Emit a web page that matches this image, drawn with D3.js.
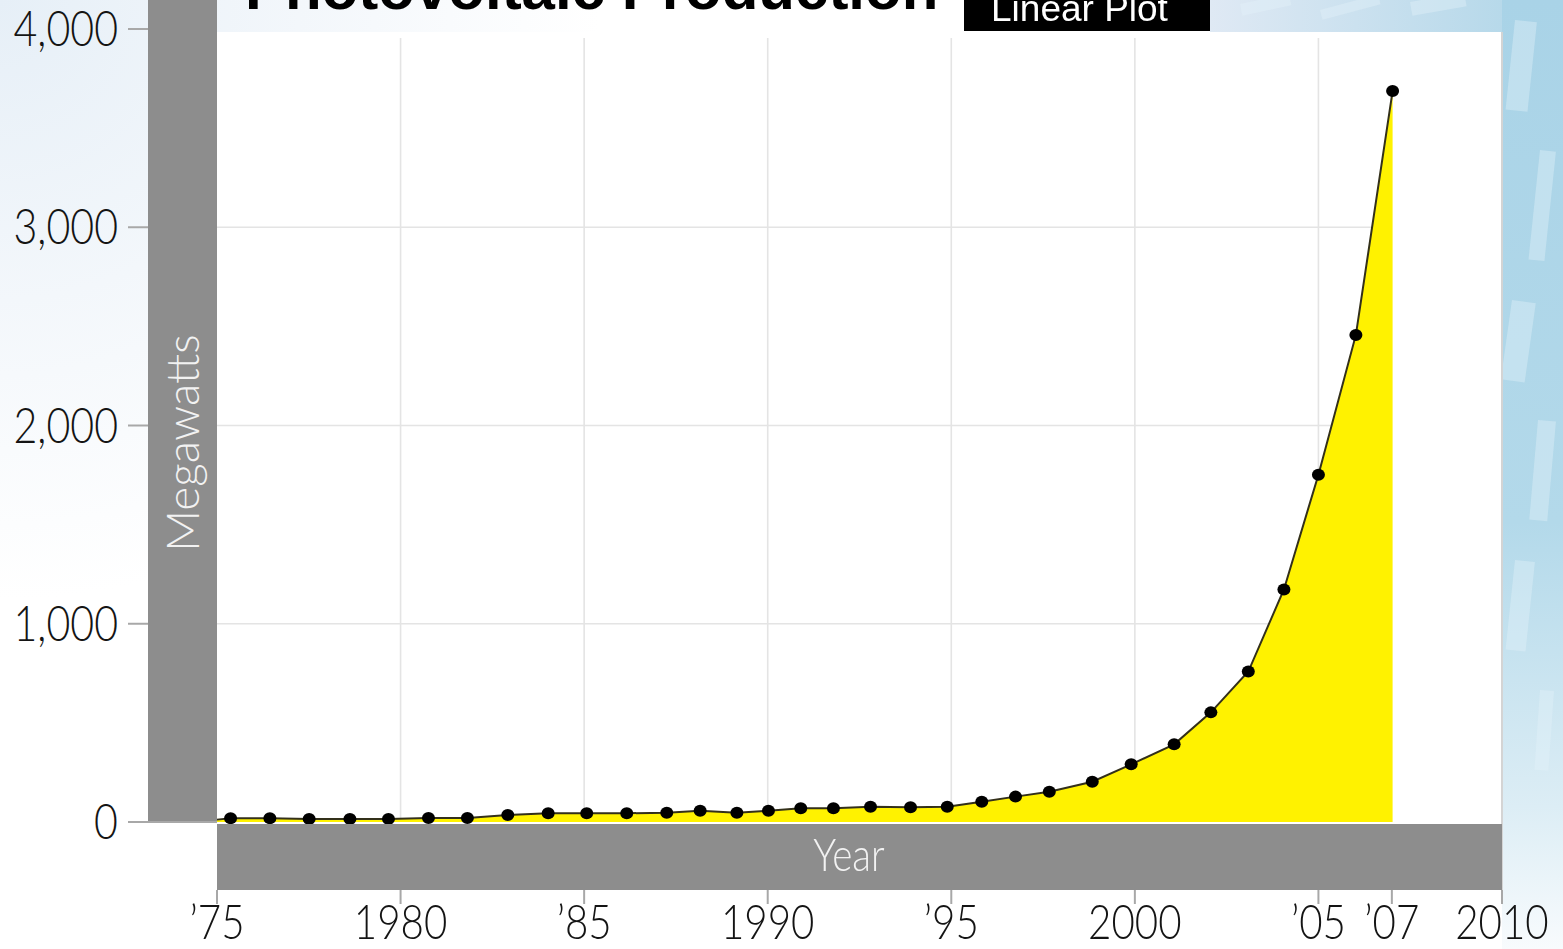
<!DOCTYPE html>
<html><head><meta charset="utf-8">
<script src="https://cdn.jsdelivr.net/npm/d3@7"></script>
<style>body{margin:0;overflow:hidden;background:#fff}</style>
</head><body><svg id="c" width="1563" height="949"></svg>
<script>
// ---- data ----
const title = "Photovoltaic Production";
const subtitle = "Linear Plot";
const yLabel = "Megawatts";
const xLabel = "Year";
const yTicks = [0, 1000, 2000, 3000, 4000];
const yGrid = [1000, 2000, 3000];
const xTicks = [1975, 1980, 1985, 1990, 1995, 2000, 2005, 2007, 2010];
const xTickLabels = ["’75", "1980", "’85", "1990", "’95", "2000", "’05", "’07", "2010"];
const xGrid = [1980, 1985, 1990, 1995, 2000, 2005];
// marker positions (year position, megawatts)
const dotYears = [1975.37, 1976.44, 1977.51, 1978.62, 1979.67, 1980.76, 1981.82, 1982.92,
  1984.02, 1985.07, 1986.16, 1987.25, 1988.16, 1989.16, 1990.02, 1990.90, 1991.79,
  1992.80, 1993.89, 1994.89, 1995.83, 1996.75, 1997.67, 1998.84, 1999.90,
  2001.07, 2002.07, 2003.09, 2004.06, 2005.00, 2006.02, 2007.02];
const dotValues = [19, 19, 15, 15, 15, 20, 20, 35,
  44, 44, 44, 47, 57, 47, 57, 69, 69,
  77, 74, 77, 102, 128, 153, 203, 291,
  392, 553, 759, 1173, 1752, 2457, 3687];
const lineStartYear = 1975, lineStartValue = 12;

// ---- layout ----
const W = 1563, H = 949;
const pLeft = 217, pRight = 1502, pTop = 29, zeroY = 822;
const svg = d3.select("#c");
const x = d3.scaleLinear().domain([1975, 2010]).range([pLeft, pRight]);
const y = d3.scaleLinear().domain([0, 4000]).range([zeroY, pTop]);
const FONT = "Lato, 'Open Sans', 'Liberation Sans', sans-serif";
const SQ = 0.84;

const defs = svg.append("defs");
// left pale-blue wash
const lg = defs.append("radialGradient").attr("id", "lw").attr("cx", 0).attr("cy", 0).attr("r", 1);
[[0, "#e6eff7"], [0.5, "#f3f7fb"], [1, "#ffffff"]].forEach(([o, c]) => lg.append("stop").attr("offset", o).attr("stop-color", c));
svg.append("rect").attr("width", W).attr("height", H).attr("fill", "#ffffff");
svg.append("rect").attr("width", 600).attr("height", 600).attr("fill", "url(#lw)");
// right blue wash (fades toward the bottom)
const rg = defs.append("linearGradient").attr("id", "rw").attr("x1", 0).attr("x2", 0).attr("y1", 0).attr("y2", 1);
[[0, "#a9d3e7"], [0.55, "#b3d9ea"], [0.85, "#dcedf5"], [1, "#f8fbfd"]].forEach(([o, c]) => rg.append("stop").attr("offset", o).attr("stop-color", c));
svg.append("rect").attr("x", pRight).attr("y", 0).attr("width", W - pRight).attr("height", H).attr("fill", "url(#rw)");
const tg = defs.append("linearGradient").attr("id", "tw").attr("x1", 0).attr("x2", 1).attr("y1", 0).attr("y2", 0);
[[0, "#dfe9f4"], [1, "#b7d9ea"]].forEach(([o, c]) => tg.append("stop").attr("offset", o).attr("stop-color", c));
svg.append("rect").attr("x", 1210).attr("y", 0).attr("width", pRight - 1210).attr("height", 32).attr("fill", "url(#tw)");

// decorative pattern (faint, blocky shapes)
const deco = svg.append("g").attr("fill", "#e4f2f9").attr("opacity", 0.4);
[[1515, 20, 22, 90, 6], [1540, 150, 16, 110, 6], [1512, 300, 24, 80, 8],
 [1538, 420, 18, 100, 5], [1515, 560, 20, 90, 6], [1540, 690, 14, 80, 4],
 [1240, 4, 50, 12, -12], [1320, 10, 60, 10, -15], [1410, 2, 55, 14, -10]]
  .forEach(([a, b, w, h, r]) => deco.append("rect").attr("x", a).attr("y", b).attr("width", w).attr("height", h)
    .attr("transform", `rotate(${r},${a},${b})`));

// white panel
svg.append("rect").attr("x", pLeft).attr("y", 32).attr("width", pRight - pLeft).attr("height", zeroY - 32).attr("fill", "#ffffff");
svg.append("line").attr("x1", pRight).attr("x2", pRight).attr("y1", 32).attr("y2", 890).attr("stroke", "#d4d4d4").attr("stroke-width", 2);

// grid
svg.append("g").selectAll("line").data(xGrid).join("line")
  .attr("x1", d => x(d)).attr("x2", d => x(d)).attr("y1", 38).attr("y2", zeroY)
  .attr("stroke", "#e4e4e4").attr("stroke-width", 1.6);
svg.append("g").selectAll("line").data(yGrid).join("line")
  .attr("x1", pLeft).attr("x2", 1383).attr("y1", d => y(d)).attr("y2", d => y(d))
  .attr("stroke", "#e4e4e4").attr("stroke-width", 1.6);

// area + line
const pts = [{yr: lineStartYear, v: lineStartValue}].concat(dotYears.map((d, i) => ({yr: d, v: dotValues[i]})));
svg.append("path").datum(pts)
  .attr("d", d3.area().x(d => x(d.yr)).y0(zeroY).y1(d => y(d.v)))
  .attr("fill", "#fff200");
svg.append("path").datum(pts)
  .attr("d", d3.line().x(d => x(d.yr)).y(d => y(d.v)))
  .attr("fill", "none").attr("stroke", "#33301a").attr("stroke-width", 2);
svg.append("g").selectAll("ellipse").data(pts.slice(1)).join("ellipse")
  .attr("cx", d => x(d.yr)).attr("cy", d => y(d.v)).attr("rx", 6.5).attr("ry", 6).attr("fill", "#000");

// gray bars
svg.append("rect").attr("x", 148).attr("y", 0).attr("width", pLeft - 148).attr("height", zeroY).attr("fill", "#8d8d8d");
svg.append("rect").attr("x", pLeft).attr("y", zeroY + 2).attr("width", pRight - pLeft).attr("height", 890 - zeroY - 2).attr("fill", "#8d8d8d");

// y ticks and labels
svg.append("g").selectAll("line").data(yTicks).join("line")
  .attr("x1", 128).attr("x2", d => d === 0 ? pLeft : 148).attr("y1", d => y(d)).attr("y2", d => y(d))
  .attr("stroke", "#a8a8a8").attr("stroke-width", 2);
svg.append("g").selectAll("text").data(yTicks).join("text")
  .attr("transform", d => `translate(118,${y(d) + 17}) scale(${SQ},1)`)
  .attr("text-anchor", "end").attr("font-family", FONT).attr("font-weight", 300)
  .attr("font-size", 49).attr("fill", "#141414").text(d => d3.format(",")(d));

// x ticks and labels
svg.append("g").selectAll("line").data(xTicks).join("line")
  .attr("x1", d => x(d)).attr("x2", d => x(d)).attr("y1", 890).attr("y2", 904)
  .attr("stroke", "#a8a8a8").attr("stroke-width", 2);
svg.append("g").selectAll("text").data(xTicks).join("text")
  .attr("transform", d => `translate(${x(d)},939) scale(${SQ},1)`)
  .attr("text-anchor", "middle").attr("font-family", FONT).attr("font-weight", 300)
  .attr("font-size", 48).attr("fill", "#141414").text((d, i) => xTickLabels[i]);

// axis titles
svg.append("text").attr("transform", "translate(199,443) rotate(-90)")
  .attr("text-anchor", "middle").attr("font-family", FONT).attr("font-weight", 300)
  .attr("font-size", 46).attr("fill", "#f2f2f2").text(yLabel);
svg.append("text").attr("transform", `translate(849,871) scale(${SQ},1)`)
  .attr("text-anchor", "middle").attr("font-family", FONT).attr("font-weight", 300)
  .attr("font-size", 46).attr("fill", "#f2f2f2").text(xLabel);

// title and subtitle box
svg.append("text").attr("x", 245).attr("y", 9).attr("font-family", "'Liberation Sans', Arial, sans-serif")
  .attr("font-weight", "bold").attr("font-size", 60).attr("fill", "#000").text(title);
svg.append("rect").attr("x", 964).attr("y", 0).attr("width", 246).attr("height", 31).attr("fill", "#000");
svg.append("text").attr("x", 991).attr("y", 21).attr("font-family", "'Liberation Sans', Arial, sans-serif")
  .attr("font-size", 37).attr("fill", "#ffffff").text(subtitle);
</script></body></html>
